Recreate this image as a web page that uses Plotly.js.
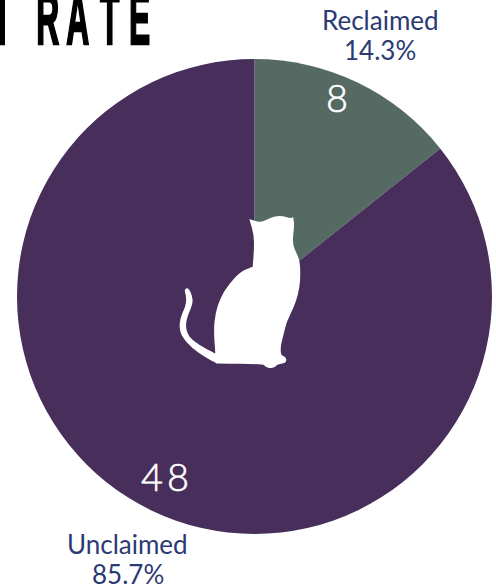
<!DOCTYPE html>
<html><head><meta charset="utf-8">
<script src="https://cdn.plot.ly/plotly-3.0.1.min.js"></script>
<style>html,body{margin:0;padding:0;background:#fff;overflow:hidden}#c{width:496px;height:588px}</style>
</head><body><div id="c"></div>
<script>
const categories = ["Reclaimed", "Unclaimed"];
const counts = [8, 48];
const percentLabels = ["14.3%", "85.7%"];
const countLabels = ["8", "48"];
const sliceColors = ["#546A63", "#482F5B"];
const titleLetters = ["I", "R", "A", "T", "E"];
const titleLetterCentres = [2.5, 47, 77.5, 109, 139];
const W = 496, H = 588;
const catOutline = [[249.3,219],[249.3,219],[260,222.7],[268.3,219],[275,216],[283.3,216],[290,218.3],[293.3,217.3],[293.3,217.3],[294.3,225],[293.3,233.3],[292.7,245],[296.7,253.3],[300,261.7],[300.5,280],[298,295],[293.5,308],[286.5,322],[283.5,335],[280.7,345],[280.7,355],[285,356.7],[286.7,360],[285,363.3],[277.3,364.3],[275,367.3],[270,368.3],[265,366.7],[263.3,364],[217,363.5],[217,363.5],[205.3,357.3],[192,348.3],[182,336.7],[179.3,328.3],[180.3,318.3],[183.7,310],[186.3,303.3],[186,295],[184.3,290.7],[186.3,288],[188.7,288.3],[192,295],[193,303.3],[188.7,313.3],[186,321.7],[186,328.3],[188.7,336.7],[198.7,345],[215.3,353.3],[215.3,353.3],[213.7,330],[215.3,313.3],[220.3,298.3],[227,286.7],[240,271.7],[252.7,266.7],[252.7,266.7],[254,250],[254,235]];
const px = ([x,y]) => (x/W).toFixed(4)+","+(1-y/H).toFixed(4);
const mid = (a,b) => [(a[0]+b[0])/2,(a[1]+b[1])/2];
let catPath = "M"+px(mid(catOutline[catOutline.length-1],catOutline[0]));
catOutline.forEach((p,i)=>{catPath+="Q"+px(p)+" "+px(mid(p,catOutline[(i+1)%catOutline.length]));});
catPath+="Z";
const ann = (text,x,y,size,color,weight) => ({text,x:x/W,y:1-y/H,xref:"paper",yref:"paper",xanchor:"center",yanchor:"middle",showarrow:false,font:{family:"Lato",size,color,weight:weight||400}});
const labelColor = "#2B3A73";
const data = [{type:"pie",labels:categories,values:counts,sort:false,direction:"clockwise",rotation:0,
  marker:{colors:sliceColors,line:{width:0}},textinfo:"none",hoverinfo:"label+value+percent",
  domain:{x:[17/W,492/W],y:[1-534/H,1-59/H]},showlegend:false}];
const titleAnns = titleLetters.map((l,i)=>{
  const a=ann("<b>"+l+"</b>",titleLetterCentres[i],19,74,"#000"); a.font.family="Liberation Sans"; return a;});
const layout = {width:W,height:H,margin:{l:0,r:0,t:0,b:0},paper_bgcolor:"#fff",showlegend:false,
  shapes:[{type:"path",xref:"paper",yref:"paper",path:catPath,fillcolor:"#fff",line:{width:0},layer:"above"}],
  annotations:[
    ann(categories[0],380,20,26,labelColor), ann(percentLabels[0],380,50,26,labelColor),
    ann(categories[1],127.5,544,26,labelColor), ann(percentLabels[1],127.5,574,26,labelColor),
    ann(countLabels[0],337,97,38,"#fff",300),
    ann(countLabels[1],167,476,38,"#fff",300)
  ].concat(titleAnns)};
Plotly.newPlot("c",data,layout,{displayModeBar:false,staticPlot:true}).then(()=>{
  document.querySelectorAll(".annotation-text").forEach(e=>{
    const s=e.textContent;
    if(titleLetters.includes(s)){
      const b=e.getBBox(); const cx=b.x+b.width/2;
      e.setAttribute("transform","translate("+cx+",0) scale(0.43,1) translate("+(-cx)+",0)");
      e.style.stroke="#000"; e.style.strokeWidth="2.5px";
    }
    if(countLabels.includes(s)){ e.style.stroke="#fff"; e.style.strokeWidth="0.6px"; }
    if(s==="48") e.style.letterSpacing="4px";
  });
});
</script></body></html>
